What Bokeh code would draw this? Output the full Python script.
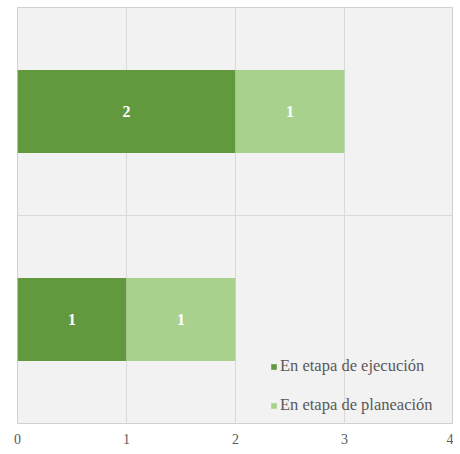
from bokeh.plotting import figure
from bokeh.models import ColumnDataSource, LabelSet, Legend, LegendItem, FixedTicker, Range1d, FactorRange, Span
from bokeh.embed import file_html
from bokeh.resources import INLINE

categories = ["Grupo B", "Grupo A"]          # bottom, top
ejecucion = [1, 2]
planeacion = [1, 1]
series_names = ["En etapa de ejecución", "En etapa de planeación"]
colors = ["#62993e", "#a9d18e"]
x_ticks = [0, 1, 2, 3, 4]

src = ColumnDataSource(dict(cat=categories, ejec=ejecucion, plan=planeacion))

p = figure(width=453, height=446, y_range=FactorRange(*categories), x_range=Range1d(0, 4),
           output_backend="svg", toolbar_location=None,
           min_border_left=17, min_border_right=0, min_border_top=7, min_border_bottom=20)

r = p.hbar_stack(["ejec", "plan"], y="cat", height=0.4, color=colors, source=src, line_width=0)

# value labels
lab_x, lab_y, lab_t = [], [], []
for c, e, pl in zip(categories, ejecucion, planeacion):
    lab_x += [e / 2, e + pl / 2]
    lab_y += [c, c]
    lab_t += [str(e), str(pl)]
lsrc = ColumnDataSource(dict(x=lab_x, y=lab_y, t=lab_t))
p.add_layout(LabelSet(x="x", y="y", text="t", source=lsrc, text_align="center", text_baseline="middle",
                      text_color="white", text_font="Liberation Serif", text_font_style="bold",
                      text_font_size="16px"))

legend = Legend(items=[LegendItem(label=series_names[i], renderers=[r[i]]) for i in range(2)],
                location=(253, 8), background_fill_alpha=0, border_line_alpha=0,
                glyph_width=7, glyph_height=7, label_standoff=3, spacing=19, padding=0,
                label_height=20, margin=0,
                label_text_font="Liberation Serif", label_text_font_size="16.5px",
                label_text_color="#595959")
p.add_layout(legend)

p.background_fill_color = "#f2f2f2"
p.border_fill_color = "white"
p.outline_line_color = "#d0d0d0"
p.xgrid.ticker = FixedTicker(ticks=x_ticks)
p.xaxis.ticker = FixedTicker(ticks=x_ticks)
p.xgrid.grid_line_color = "#d9d9d9"
p.ygrid.grid_line_color = None
p.xaxis.axis_line_color = None
p.xaxis.major_tick_line_color = None
p.xaxis.minor_tick_line_color = None
p.xaxis.major_label_text_font = "Liberation Serif"
p.xaxis.major_label_text_font_size = "14px"
p.xaxis.major_label_text_color = "#595959"
p.xaxis.major_label_standoff = 4
p.yaxis.visible = False

# category separator
p.add_layout(Span(location=1, dimension="width", line_color="#d9d9d9", line_width=1))

open("out.html", "w").write(file_html(p, INLINE))
